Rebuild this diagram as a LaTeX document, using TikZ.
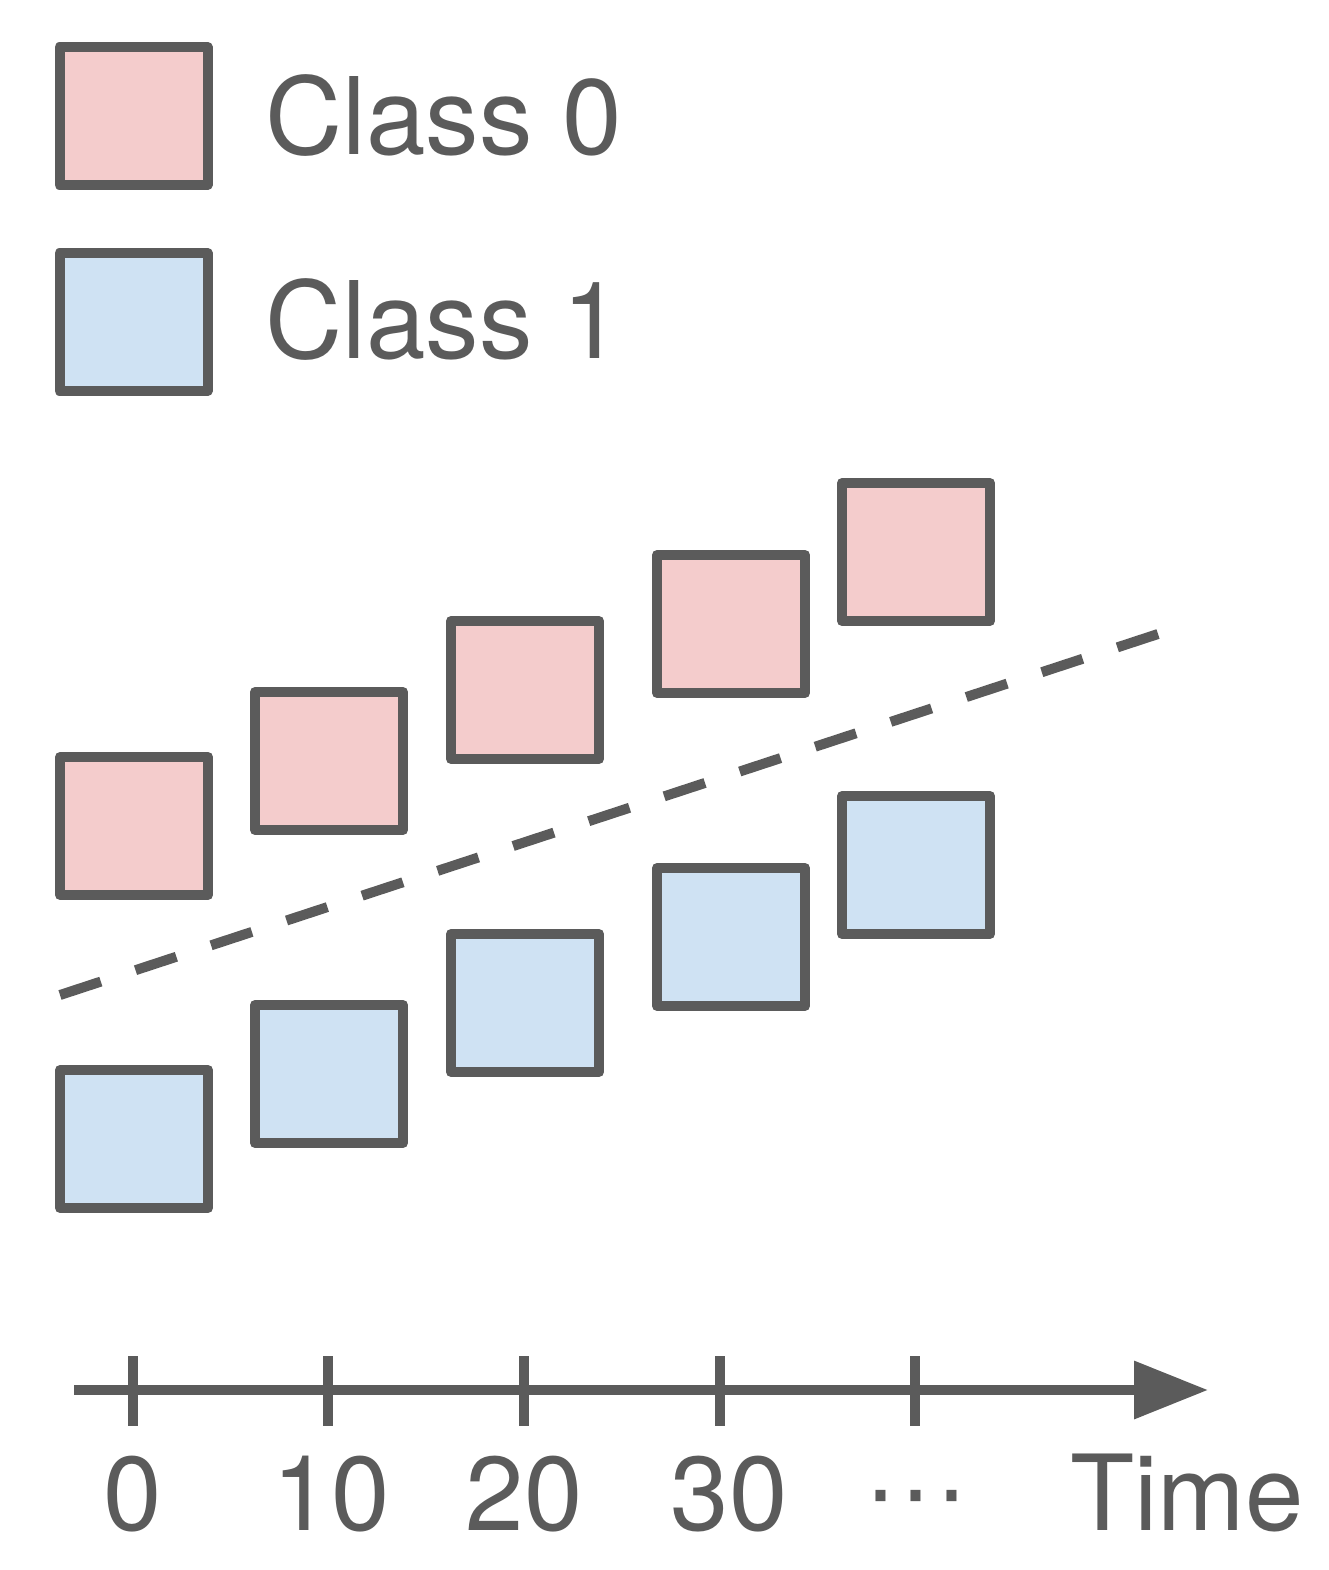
\documentclass[tikz,border=0pt]{standalone}
\usepackage{fontspec}
\setmainfont{TeX Gyre Heros}
\newfontfamily\dotfont{Liberation Sans}
\usetikzlibrary{arrows.meta}
\definecolor{edge}{HTML}{5B5B5B}
\definecolor{pinkfill}{HTML}{F4CCCC}
\definecolor{bluefill}{HTML}{CFE2F3}
\tikzset{
  box/.style={draw=edge, line width=10pt, line join=round, inner sep=0pt,
    minimum width=148pt, minimum height=138pt},
  redbox/.style={box, fill=pinkfill},
  bluebox/.style={box, fill=bluefill},
  lbl/.style={text=edge, inner sep=0pt, font=\fontsize{107}{120}\selectfont},
  axlbl/.style={text=edge, inner sep=0pt, anchor=base, font=\fontsize{105}{120}\selectfont},
  tickmark/.style={draw=edge, line width=10pt},
}
\begin{document}
\begin{tikzpicture}[x=1pt,y=-1pt]
\useasboundingbox (0,0) rectangle (1328,1570);
% legend
\node[redbox] (leg0) at (133.5,116) {};
\node[bluebox] (leg1) at (133.5,322) {};
\node[lbl, anchor=base west] (leg0t) at (265,155) {Class 0};
\node[lbl, anchor=base west] (leg1t) at (265,358) {Class 1};
% class 0 squares
\node[redbox] (r1) at (134,826) {};
\node[redbox] (r2) at (329,761) {};
\node[redbox] (r3) at (525,690) {};
\node[redbox] (r4) at (731,624) {};
\node[redbox] (r5) at (916,552) {};
% class 1 squares
\node[bluebox] (b1) at (134,1139) {};
\node[bluebox] (b2) at (329,1074) {};
\node[bluebox] (b3) at (525,1003) {};
\node[bluebox] (b4) at (731,937) {};
\node[bluebox] (b5) at (916,865) {};
% decision boundary
\coordinate (d0) at (60,995);
\coordinate (d1) at (1158,634);
\draw[draw=edge, line width=10pt, dash pattern=on 43pt off 36.5pt] (d0) -- (d1);
% axis
\coordinate (a0) at (74,1390);
\coordinate (a1) at (1208,1390);
\draw[draw=edge, line width=10pt, -{Triangle[length=74pt, width=56pt]}] (a0) -- (a1);
\foreach \n/\x in {t0/133, t1/328, t2/524, t3/720, t4/915} {
  \coordinate (\n a) at (\x,1356);
  \coordinate (\n b) at (\x,1426);
  \draw[tickmark] (\n a) -- (\n b);
}
% axis labels
\node[axlbl] (l0) at (133,1530) {0};
\node[axlbl] (l1) at (331,1530) {10};
\node[axlbl] (l2) at (524,1530) {20};
\node[axlbl] (l3) at (729,1530) {30};
\node[axlbl] (l4) at (916,1530) {\dotfont\raisebox{6pt}{\makebox[35.5pt]{·}\makebox[35.5pt]{·}\makebox[35.5pt]{·}}};
\node[axlbl] (l5) at (1187,1530) {Time};
\end{tikzpicture}
\end{document}
